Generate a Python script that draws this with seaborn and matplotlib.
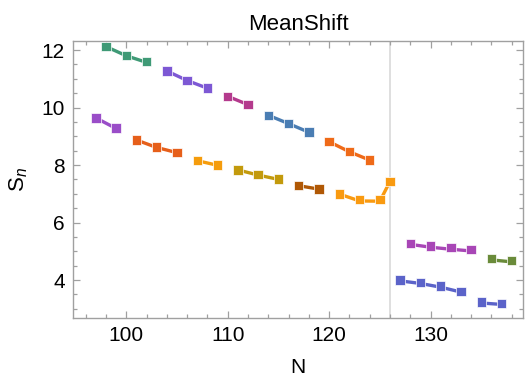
import numpy as np
import pandas as pd
import matplotlib
matplotlib.use('Agg')
import matplotlib.pyplot as plt
import seaborn as sns
from matplotlib.ticker import MultipleLocator

# points, one group per short segment
n = [98, 100, 102,
     104, 106, 108,
     110, 112,
     114, 116, 118,
     120, 122, 124,
     97, 99,
     101, 103, 105,
     107, 109,
     111, 113, 115,
     117, 119,
     121, 123, 125, 126,
     128, 130, 132, 134,
     127, 129, 131, 133,
     136, 138,
     135, 137]
s = [12.12, 11.81, 11.59,
     11.27, 10.94, 10.68,
     10.39, 10.11,
     9.73, 9.45, 9.15,
     8.81, 8.46, 8.18,
     9.64, 9.28,
     8.87, 8.62, 8.43,
     8.15, 8.00,
     7.83, 7.66, 7.51,
     7.28, 7.17,
     6.99, 6.79, 6.79, 7.43,
     5.26, 5.18, 5.13, 5.07,
     4.00, 3.91, 3.79, 3.61,
     4.74, 4.67,
     3.24, 3.19]
# fitted curve values at the same N
s_fit = [12.12, 11.80, 11.57,
         11.27, 10.94, 10.67,
         10.39, 10.10,
         9.73, 9.44, 9.14,
         8.81, 8.46, 8.17,
         9.64, 9.27,
         8.87, 8.61, 8.43,
         8.15, 7.99,
         7.83, 7.65, 7.50,
         7.28, 7.16,
         6.99, 6.75, 6.74, 7.43,
         5.24, 5.14, 5.07, 5.01,
         3.97, 3.88, 3.75, 3.58,
         4.70, 4.63,
         3.20, 3.15]
grp = (['a'] * 3 + ['b'] * 3 + ['c'] * 2 + ['d'] * 3 + ['e'] * 3 + ['f'] * 2 +
       ['g'] * 3 + ['h'] * 2 + ['i'] * 3 + ['j'] * 2 + ['k'] * 4 + ['l'] * 4 +
       ['m'] * 4 + ['o'] * 2 + ['p'] * 2)
colors = {'a': '#3f9a76', 'b': '#7d58d4', 'c': '#b43a8d', 'd': '#4a7db3',
          'e': '#ef6a18', 'f': '#9a4dc8', 'g': '#e65f1a', 'h': '#f59c0c',
          'i': '#c39a0c', 'j': '#b05805', 'k': '#f99a10', 'l': '#a846b6',
          'm': '#5b63c9', 'o': '#6a8b3a', 'p': '#5b63c9'}

df = pd.DataFrame({'N': n, 'S': s, 'fit': s_fit, 'grp': grp})

sns.set_style('ticks')
plt.rcParams['font.family'] = ['Liberation Sans', 'DejaVu Sans']
plt.rcParams['mathtext.fontset'] = 'custom'
plt.rcParams['mathtext.rm'] = 'Liberation Sans'
plt.rcParams['mathtext.it'] = 'Liberation Sans:italic'
plt.rcParams['text.color'] = 'black'
plt.rcParams['axes.labelcolor'] = 'black'

fig, ax = plt.subplots(figsize=(5.25, 3.84), dpi=100)
fig.subplots_adjust(left=0.139, right=0.996, bottom=0.172, top=0.893)

ax.axvline(126, color='#dcdcdc', lw=1.3, zorder=0)

sns.lineplot(data=df, x='N', y='fit', hue='grp', palette=colors, estimator=None,
             lw=2.4, legend=False, ax=ax, zorder=2)
sns.scatterplot(data=df, x='N', y='S', hue='grp', palette=colors, marker='s', s=46,
                edgecolor='white', linewidth=0.5, legend=False, ax=ax, zorder=3)

ax.set_xlim(94.75, 139.1)
ax.set_ylim(2.68, 12.31)
ax.xaxis.set_major_locator(MultipleLocator(10))
ax.xaxis.set_minor_locator(MultipleLocator(2))
ax.yaxis.set_major_locator(MultipleLocator(2))
ax.yaxis.set_minor_locator(MultipleLocator(0.5))

for sp in ax.spines.values():
    sp.set_color('#a0a0a0')
    sp.set_linewidth(1.0)
ax.tick_params(which='both', direction='in', top=True, right=True,
               color='#a0a0a0', labelcolor='black', labelsize=15, width=0.9)
ax.tick_params(which='major', length=5, pad=6)
ax.tick_params(which='minor', length=3)

ax.set_title('MeanShift', fontsize=16, pad=8, color='black')
ax.set_xlabel('N', fontsize=15, labelpad=9)
ax.set_ylabel('S$_{n}$', fontsize=16, labelpad=8)

fig.savefig('out.png', dpi=100)
